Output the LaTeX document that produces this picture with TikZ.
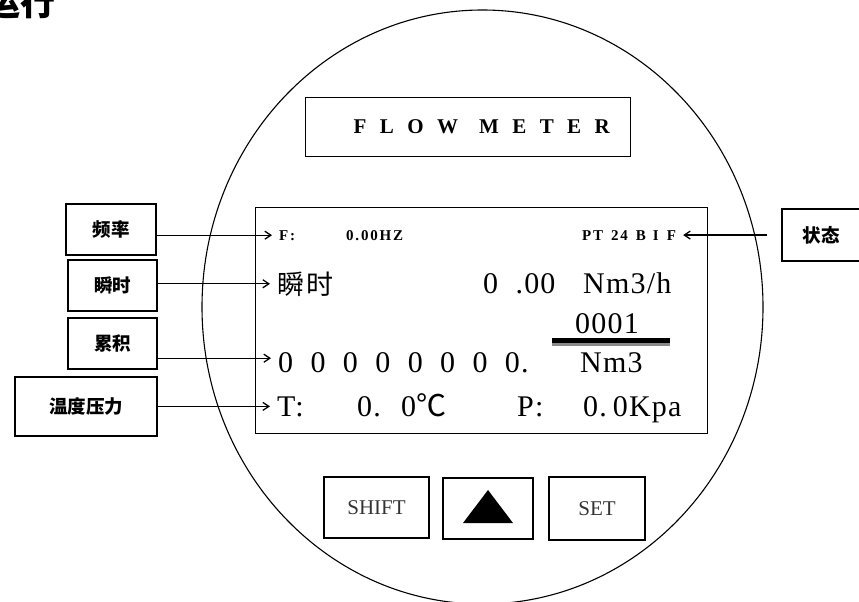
\documentclass[tikz,border=0pt]{standalone}
\usepackage{fontspec}
\usepackage{tikz}
\usetikzlibrary{arrows.meta, positioning, calc}
\setmainfont{Liberation Serif}
\newfontfamily\cjk{Noto Sans CJK SC}
\newfontfamily\cjklcd{Noto Sans CJK SC}[LetterSpace=10]
\newfontfamily\lcdfont{Liberation Serif}[LetterSpace=4, WordSpace=2]
\newfontfamily\titlefont{Liberation Serif}[LetterSpace=64]
\newfontfamily\tagfont{Liberation Serif}[LetterSpace=12]
\definecolor{ink}{HTML}{000000}
\definecolor{barshade}{HTML}{8A8A8A}
\definecolor{keytext}{HTML}{333333}

\begin{document}
\begin{tikzpicture}[x=1pt, y=-1pt,
    tag/.style={draw=ink, line width=1.2pt, inner sep=0pt, font=\cjk\bfseries\fontsize{18.5}{22}\selectfont},
    key/.style={draw=ink, line width=1.3pt, inner sep=0pt, text=keytext, font=\fontsize{21}{24}\selectfont},
    small/.style={anchor=base west, inner sep=0pt, font=\tagfont\bfseries\fontsize{15}{18}\selectfont},
    big/.style={anchor=base west, inner sep=0pt, font=\lcdfont\fontsize{30}{34}\selectfont},
    arr/.style={-{Straight Barb[length=6pt, width=8pt]}, line width=1.3pt, shorten >=7pt}]
  \useasboundingbox (0,0) rectangle (859,602);
  \node[anchor=base west, inner sep=0pt, font=\cjk\bfseries\fontsize{35}{40}\selectfont] (head) at (-15,16) {运行};
  \draw[ink, line width=1.1pt] (482.5,307) ellipse [x radius=280.5, y radius=297];

  \node[draw=ink, line width=1.2pt, anchor=north west, minimum height=59pt, text width=325pt, inner xsep=0pt, align=left,
        font=\titlefont\bfseries\fontsize{21}{24}\selectfont] (title) at (305,97) {\hspace*{48pt}FLOW\hspace{21pt}METER};
  \node[draw=ink, line width=1.2pt, anchor=north west, minimum width=452pt, minimum height=226pt, inner sep=0pt] (lcd) at (255,207) {};

  \node[small] (fF) at (279,240) {F:};
  \node[small] (fval) at (346,240) {0.00HZ};
  \node[small] (pt) at (582,240) {PT\hspace{8pt}24\hspace{8pt}B\hspace{7pt}I\hspace{8pt}F};
  \node[big, font=\cjklcd\fontsize{27}{30}\selectfont] (flowtxt) at (277,294) {瞬时};
  \node[big] (rate) at (483,293) {0 .00};
  \node[big] (rateu) at (583,293) {Nm3/h};
  \node[big] (seq) at (575,333) {0001};
  \fill[barshade] (552,343) rectangle (670,346);
  \fill[ink] (552,338) rectangle (670,343);
  \node[big] (zeros) at (278,372) {0 0 0 0 0 0 0 0.};
  \node[big] (sumu) at (580,372) {Nm3};
  \node[big] (tl) at (277,416) {T:};
  \node[big] (tval) at (357,416) {0. 0{\cjk ℃}};
  \node[big] (pl) at (517,416) {P:};
  \node[big] (pval) at (583,416) {0.\hspace{0.2em}0Kpa};

  \node[tag, minimum width=90pt, minimum height=51pt] (freq) at (111,229.5) {频率};
  \node[tag, minimum width=89pt, minimum height=51pt] (flow) at (112.5,285.5) {瞬时};
  \node[tag, minimum width=89pt, minimum height=51pt] (total) at (112.5,343.5) {累积};
  \node[tag, minimum width=142pt, minimum height=59pt] (temp) at (86,406.5) {温度压力};
  \node[tag, minimum width=78pt, minimum height=52pt] (state) at (821,235) {状态};

  \draw[arr] (freq.east |- fF.west) -- (fF.west);
  \draw[arr] (flow.east |- flowtxt.west) -- (flowtxt.west);
  \draw[arr] ([yshift=4pt]total.east |- zeros.west) -- ([yshift=4pt]zeros.west);
  \draw[arr] (temp.east |- tl.west) -- (tl.west);
  \draw[arr, shorten <=14pt] (state.west |- pt.east) -- (pt.east);

  \node[key, minimum width=105pt, minimum height=61pt] (shift) at (376.5,507.5) {SHIFT};
  \node[key, minimum width=90pt, minimum height=61pt] (up) at (488,508.5) {};
  \fill[ink] ($(up)+(0,-18.5)$) -- ($(up)+(25,14.5)$) -- ($(up)+(-25,14.5)$) -- cycle;
  \node[key, minimum width=96pt, minimum height=63pt] (set) at (597,508.5) {SET};
\end{tikzpicture}
\end{document}
